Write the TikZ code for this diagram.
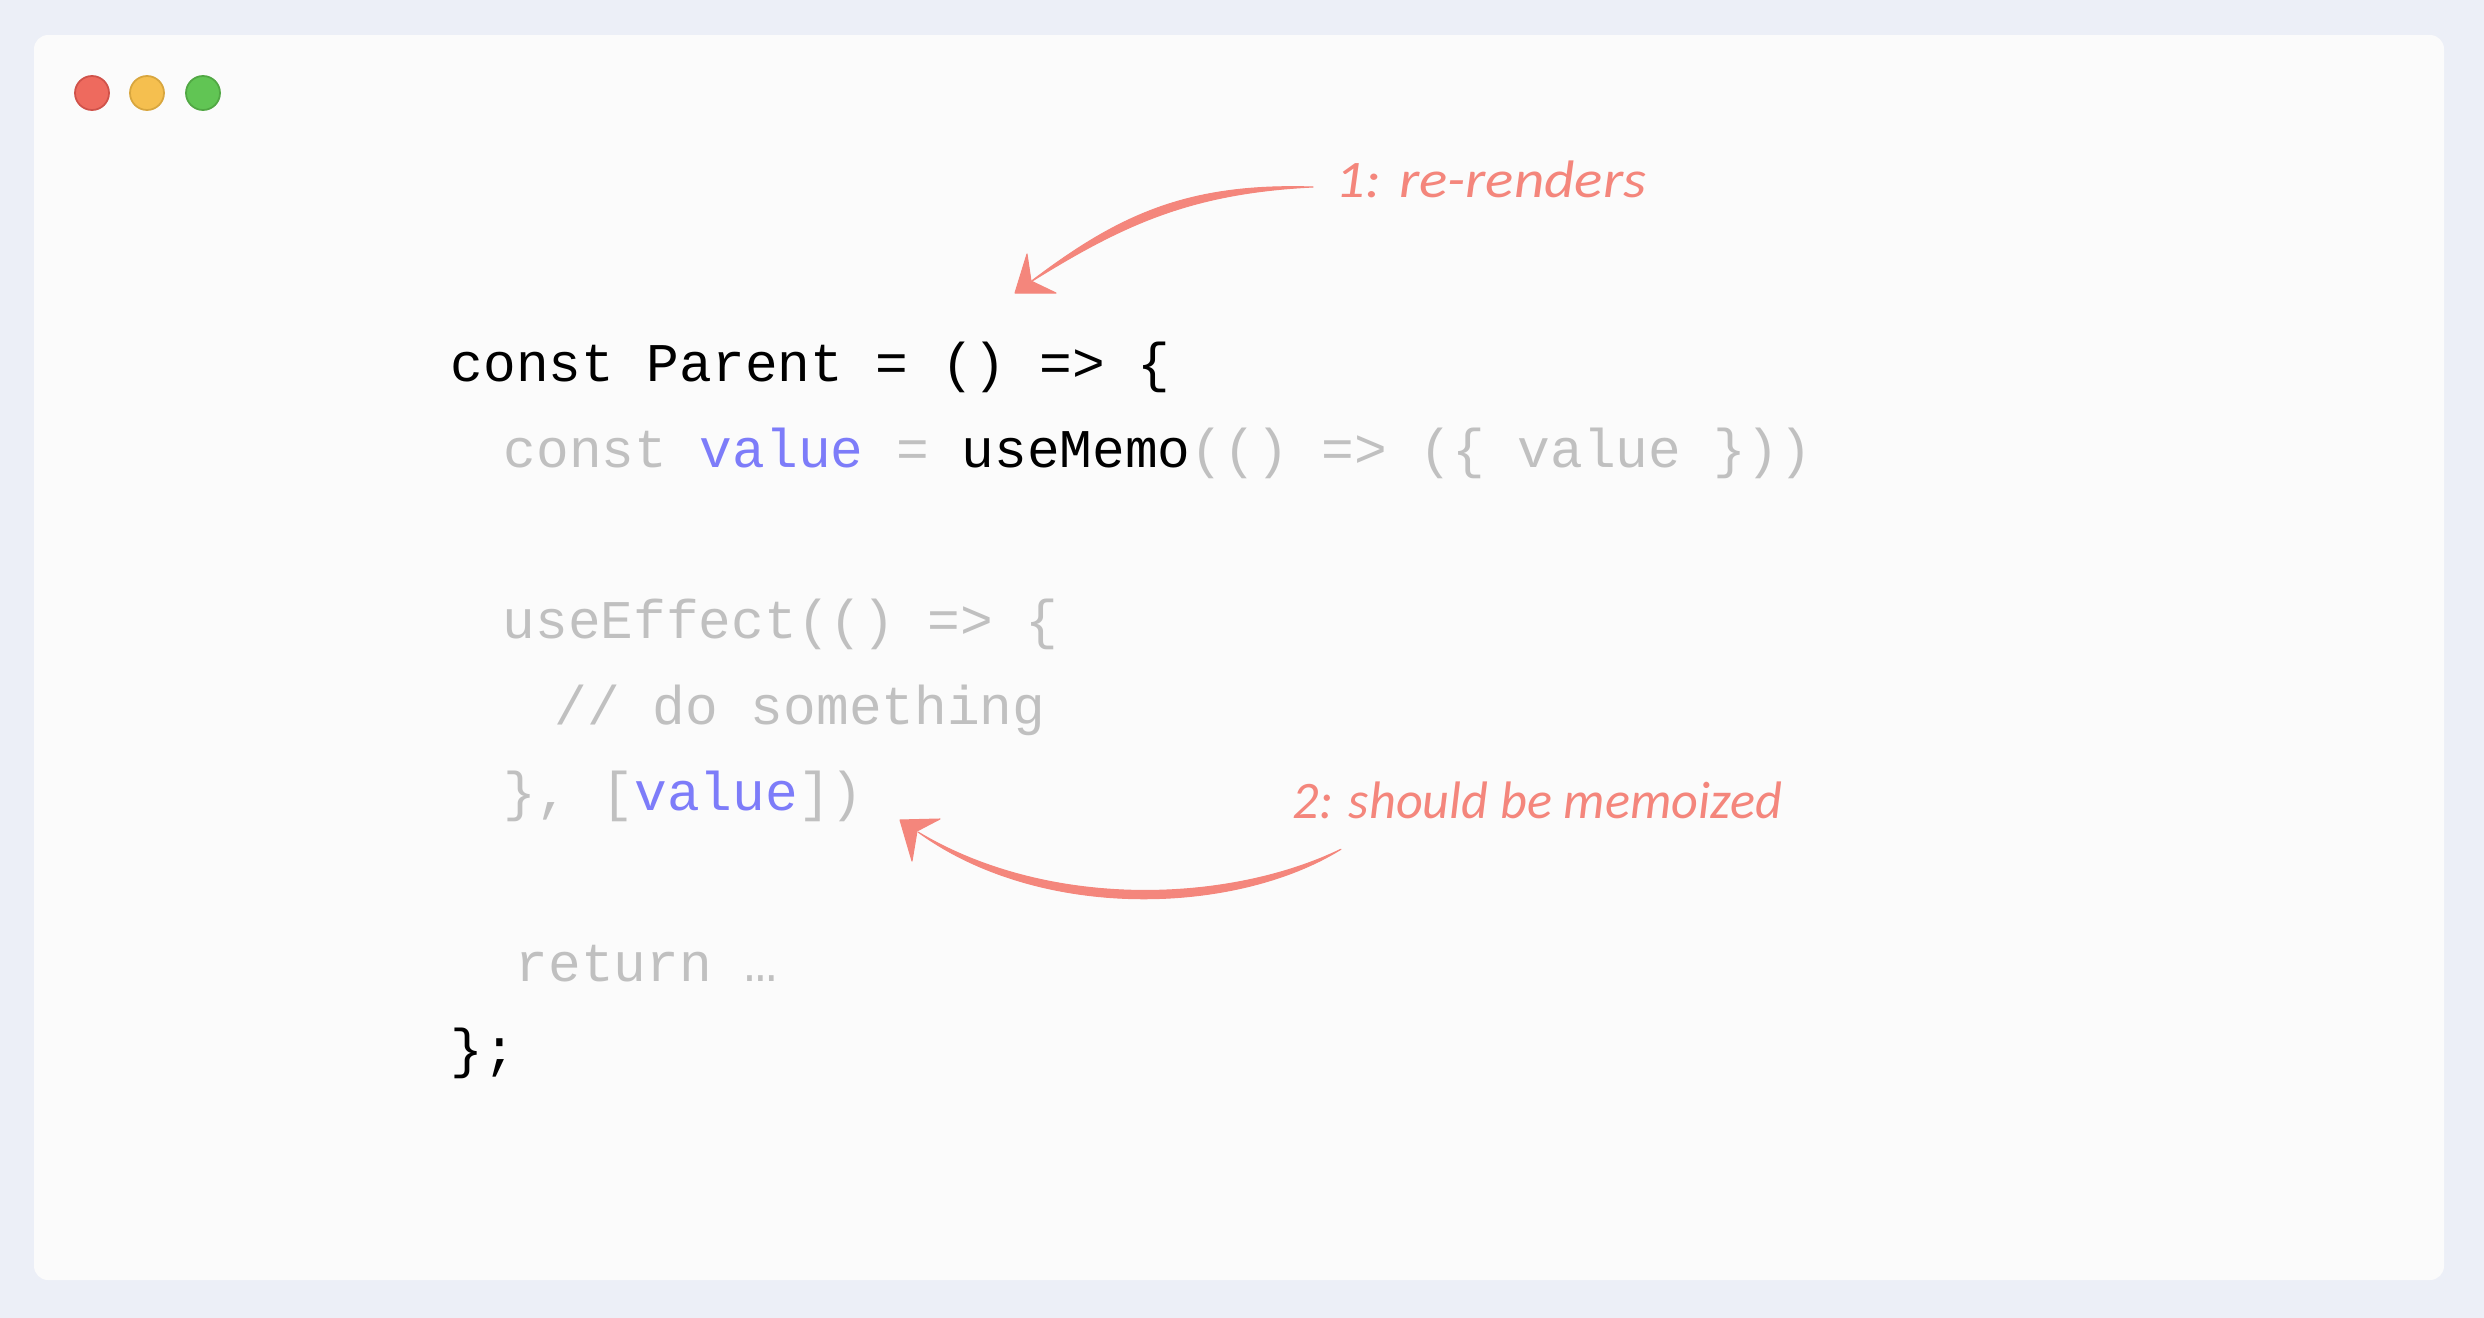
\documentclass[tikz,border=0pt]{standalone}
\usepackage{fontspec}
\setmonofont{Liberation Mono}
\newfontfamily\handfont{Carlito}
\usetikzlibrary{calc}

\definecolor{pagebg}{HTML}{ECEFF7}
\definecolor{cardbg}{HTML}{FBFBFB}
\definecolor{dimgray}{HTML}{C0C0C0}
\definecolor{valblue}{HTML}{7D7CF9}
\definecolor{coral}{HTML}{F4867C}
\definecolor{dotred}{HTML}{EE6A5E}
\definecolor{dotredline}{HTML}{D0524A}
\definecolor{dotyellow}{HTML}{F5BF4F}
\definecolor{dotyellowline}{HTML}{D8A63E}
\definecolor{dotgreen}{HTML}{61C554}
\definecolor{dotgreenline}{HTML}{51A844}
\newcommand{\dimc}[1]{\textcolor{dimgray}{#1}}
\newcommand{\valc}[1]{\textcolor{valblue}{#1}}

\tikzset{
  codeline/.style={anchor=base west,inner sep=0pt,font=\ttfamily\fontsize{15.5}{18}\selectfont},
  handnote/.style={anchor=west,inner ysep=0pt,text=coral,font=\handfont\itshape\fontsize{15}{18}\selectfont},
  brushfill/.style={fill=coral,draw=coral,line width=0.3pt,line join=round},
  dot/.style={circle,minimum size=0.34cm,inner sep=0pt,line width=0.5pt}
}

\begin{document}
\begin{tikzpicture}[x=0.01cm,y=-0.01cm]
      \useasboundingbox (0,0) rectangle (2484,1318);
      \fill[pagebg] (0,0) rectangle (2484,1318);
      \fill[cardbg,rounded corners=4pt] (34,35) rectangle (2444,1280);

      \node[dot,fill=dotred,draw=dotredline] (lightred) at (92,93) {};
      \node[dot,fill=dotyellow,draw=dotyellowline] (lightyellow) at (147,93) {};
      \node[dot,fill=dotgreen,draw=dotgreenline] (lightgreen) at (203,93) {};

      \node[codeline] (line1) at (450,381) {const Parent = () => \{};
      \node[codeline] (line2) at (503,467) {\dimc{const} \valc{value} \dimc{=} useMemo\dimc{(() => (\{ value \}))}};
      \node[codeline] (line3) at (502,638) {\dimc{useEffect(() => \{}};
      \node[codeline] (line4) at (554,724) {\dimc{// do something}};
      \node[codeline] (line5) at (503,810) {\dimc{\}, [}\valc{value}\dimc{])}};
      \node[codeline] (line6) at (515,981) {\dimc{return …}};
      \node[codeline] (line7) at (450,1067) {\};};

      % notes, the west anchor is where the brush starts
      \node[handnote,inner xsep=6.2pt] (noteone) at (1313,179) {\scalebox{1.12}[1]{1: re-renders}};
      \node[handnote,inner xsep=0pt] (notetwo) at (1292,800) {\scalebox{0.99}[1]{2: should be memoized}};

      \coordinate (tailone) at ($(noteone.west)+(0,8)$);
      \coordinate (tipone) at (1029,283);
      \coordinate (tailtwo) at ($(notetwo.south west)+(49,30)$);
      \coordinate (tiptwo) at (918,832);

      \fill[brushfill] (tailone) .. controls (1187,183) and (1118,215) .. (tipone)
        .. controls (1122,225) and (1190,193) .. cycle;
      \fill[brushfill] (1027,254) -- (1015,293) -- (1056,293) -- (1031,281) -- cycle;

      \fill[brushfill] (tailtwo) .. controls (1230,903) and (1050,911) .. (tiptwo)
        .. controls (1040,921) and (1235,915) .. cycle;
      \fill[brushfill] (900,820) -- (940,819) -- (917,831) -- (912,861) -- cycle;
    \end{tikzpicture}
\end{document}
